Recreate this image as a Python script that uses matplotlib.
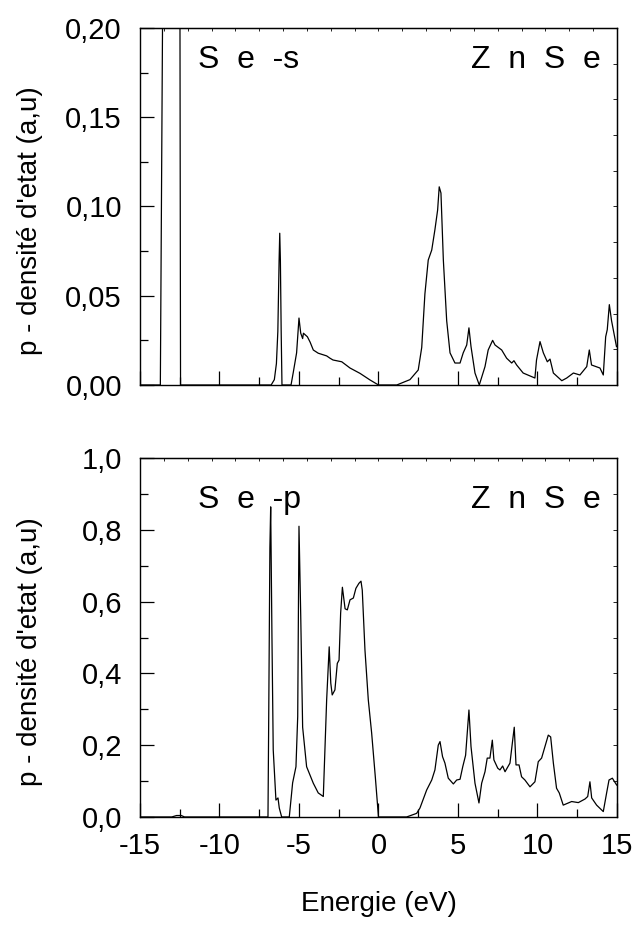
import matplotlib
matplotlib.use("Agg")
import matplotlib.pyplot as plt
from matplotlib.ticker import MultipleLocator

plt.rcParams['font.family'] = ['Liberation Sans', 'DejaVu Sans']
plt.rcParams['axes.unicode_minus'] = False

# Se-s partial density of states
energie_s = [-15.0, -13.72, -13.55, -13.3, -13.0, -12.6, -12.52, -12.45,
             -6.75, -6.55, -6.42, -6.33, -6.25, -6.21, -6.17, -6.12, -6.07,
             -5.5, -5.36, -5.15, -5.0, -4.89, -4.77, -4.72, -4.47, -4.3, -4.1,
             -3.79, -3.26, -3.05, -2.86, -2.31, -1.79, -1.16, -0.53, 0.0,
             1.15, 1.98, 2.5, 2.72, 2.92, 3.13, 3.35, 3.55, 3.72, 3.82, 3.93,
             4.08, 4.29, 4.5, 4.81, 5.13, 5.33, 5.55, 5.69, 5.82, 6.07, 6.34,
             6.7, 6.9, 7.18, 7.33, 7.75, 8.06, 8.38, 8.52, 8.69, 9.1, 9.84,
             9.94, 10.16, 10.37, 10.62, 10.79, 11.0, 11.53, 11.84, 12.26,
             12.67, 13.1, 13.26, 13.4, 13.93, 14.14, 14.29, 14.39, 14.52,
             14.66, 14.97]
dos_s = [0.0, 0.0, 0.25, 0.6, 0.9, 0.7, 0.4, 0.0,
         0.0, 0.003, 0.012, 0.03, 0.07, 0.085, 0.07, 0.03, 0.0,
         0.0, 0.007, 0.018, 0.0375, 0.029, 0.026, 0.029, 0.027, 0.024, 0.0196,
         0.0178, 0.0163, 0.015, 0.014, 0.013, 0.0095, 0.0065, 0.0028, 0.0,
         0.0, 0.003, 0.0084, 0.021, 0.051, 0.07, 0.0756, 0.087, 0.098, 0.111,
         0.1075, 0.07, 0.036, 0.018, 0.0123, 0.0123, 0.018, 0.0224, 0.032,
         0.0215, 0.0067, 0.0, 0.0103, 0.0196, 0.025, 0.0224, 0.0196, 0.015,
         0.0123, 0.0136, 0.0112, 0.0067, 0.0039, 0.014, 0.0243, 0.018, 0.013,
         0.0145, 0.0067, 0.0024, 0.0039, 0.0067, 0.0056, 0.0103, 0.0196,
         0.0112, 0.0095, 0.0056, 0.027, 0.031, 0.045, 0.036, 0.0215]

# Se-p partial density of states
energie_p = [-15.0, -13.0, -12.7, -12.4, -12.2, -6.95, -6.9, -6.83, -6.78,
             -6.7, -6.62, -6.45, -6.32, -6.24, -6.09, -5.61, -5.4, -5.19,
             -5.08, -5.0, -4.89, -4.77, -4.52, -4.1, -3.79, -3.47, -3.26,
             -3.1, -3.0, -2.91, -2.74, -2.59, -2.48, -2.38, -2.27, -2.1, -1.96,
             -1.79, -1.58, -1.42, -1.23, -1.1, -1.02, -0.85, -0.64, -0.43,
             -0.2, 0.0, 1.77, 2.4, 2.61, 3.03, 3.35, 3.55, 3.76, 3.87, 4.03,
             4.18, 4.39, 4.71, 4.92, 5.13, 5.3, 5.48, 5.69, 5.82, 6.07, 6.32,
             6.49, 6.7, 6.84, 7.01, 7.16, 7.26, 7.5, 7.64, 7.81, 7.96, 8.27,
             8.42, 8.54, 8.65, 8.84, 9.0, 9.21, 9.53, 9.84, 10.05, 10.26,
             10.47, 10.68, 10.83, 11.0, 11.2, 11.37, 11.62, 11.94, 12.15,
             12.57, 12.99, 13.16, 13.3, 13.41, 13.72, 14.14, 14.35, 14.5,
             14.71, 14.98]
dos_p = [0.0, 0.0, 0.004, 0.004, 0.0, 0.0, 0.3, 0.75, 0.864,
         0.5, 0.187, 0.047, 0.053, 0.025, 0.0, 0.0, 0.095, 0.14,
         0.28, 0.81, 0.56, 0.25, 0.14, 0.094, 0.067, 0.057, 0.326,
         0.474, 0.373, 0.34, 0.354, 0.428, 0.437, 0.568, 0.64, 0.58, 0.577,
         0.605, 0.61, 0.637, 0.651, 0.657, 0.632, 0.465, 0.326, 0.234,
         0.112, 0.0, 0.0, 0.01, 0.025, 0.075, 0.103, 0.131, 0.2, 0.21, 0.168,
         0.15, 0.108, 0.092, 0.103, 0.105, 0.14, 0.172, 0.298, 0.196, 0.094,
         0.039, 0.094, 0.126, 0.164, 0.164, 0.214, 0.159, 0.136, 0.131,
         0.142, 0.126, 0.15, 0.206, 0.25, 0.145, 0.145, 0.112, 0.103, 0.084,
         0.098, 0.154, 0.164, 0.196, 0.228, 0.223, 0.15, 0.08, 0.067, 0.033,
         0.039, 0.043, 0.04, 0.05, 0.057, 0.098, 0.053, 0.033, 0.015, 0.067,
         0.103, 0.108, 0.089]

x_ticks = [-15, -10, -5, 0, 5, 10, 15]
y_ticks_s = [0.00, 0.05, 0.10, 0.15, 0.20]
y_labels_s = ['0,00', '0,05', '0,10', '0,15', '0,20']
y_ticks_p = [0.0, 0.2, 0.4, 0.6, 0.8, 1.0]
y_labels_p = ['0,0', '0,2', '0,4', '0,6', '0,8', '1,0']

ylabel = "p - densité d'etat (a,u)"

fig = plt.figure(figsize=(6.41, 9.25), dpi=100)
ax1 = fig.add_axes([0.2184, 0.5838, 0.7441, 0.386])
ax2 = fig.add_axes([0.2184, 0.1168, 0.7441, 0.388])


def style(ax, yt, yl, ymax, yminor, rstep, show_x):
    ax.set_xlim(-15, 15)
    ax.set_ylim(0, ymax)
    ax.set_xticks(x_ticks)
    ax.xaxis.set_minor_locator(MultipleLocator(2.5))
    ax.set_yticks(yt)
    ax.set_yticklabels(yl)
    ax.yaxis.set_minor_locator(MultipleLocator(yminor))
    ax.tick_params(which='both', direction='in', top=False, right=False,
                   width=0.9, labelsize=21)
    ax.tick_params(which='major', length=10)
    ax.tick_params(which='minor', length=5.5)
    ax.tick_params(axis='y', pad=13)
    ax.tick_params(axis='x', pad=11, labelbottom=show_x)
    for sp in ax.spines.values():
        sp.set_linewidth(1.0)
    # tiny ticks along the top and right frame
    top = ax.secondary_xaxis('top')
    top.xaxis.set_major_locator(MultipleLocator(1.5))
    top.tick_params(direction='in', length=2, width=0.6, labeltop=False)
    right = ax.secondary_yaxis('right')
    right.yaxis.set_major_locator(MultipleLocator(rstep))
    right.tick_params(direction='in', length=3, width=0.6, labelright=False)
    ax.set_ylabel(ylabel, fontsize=20)
    ax.yaxis.set_label_coords(-0.203, 0.46)


ax1.plot(energie_s, dos_s, color='black', lw=0.9)
style(ax1, y_ticks_s, y_labels_s, 0.20, 0.025, 0.02, False)
ax1.text(0.122, 0.888, "S  e  -s", transform=ax1.transAxes, fontsize=23,
         ha='left', va='baseline')
ax1.text(0.966, 0.888, "Z  n  S  e", transform=ax1.transAxes, fontsize=23,
         ha='right', va='baseline')

ax2.plot(energie_p, dos_p, color='black', lw=0.9)
style(ax2, y_ticks_p, y_labels_p, 1.0, 0.1, 0.1, True)
ax2.text(0.122, 0.861, "S  e  -p", transform=ax2.transAxes, fontsize=23,
         ha='left', va='baseline')
ax2.text(0.966, 0.861, "Z  n  S  e", transform=ax2.transAxes, fontsize=23,
         ha='right', va='baseline')
ax2.set_xlabel("Energie (eV)", fontsize=20)
ax2.xaxis.set_label_coords(0.5, -0.205)

fig.savefig("out.png", dpi=100)
